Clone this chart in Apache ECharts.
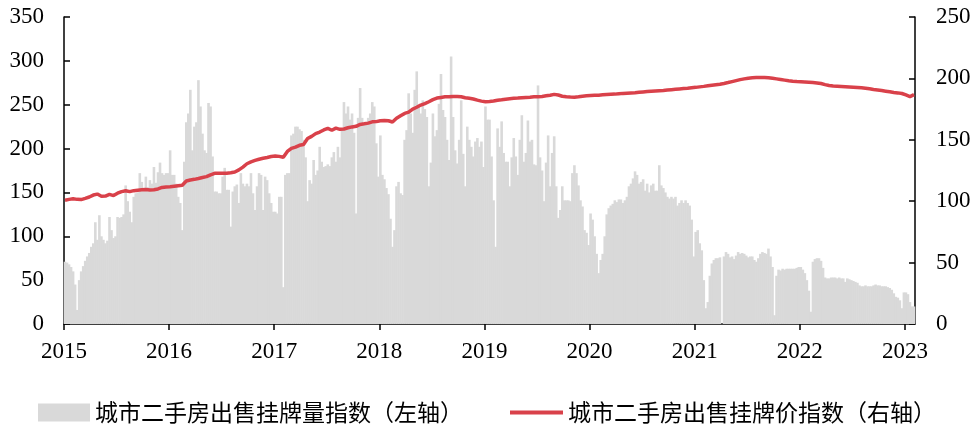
<!DOCTYPE html>
<html>
<head>
<meta charset="utf-8">
<script src="https://cdn.jsdelivr.net/npm/echarts@6/dist/echarts.min.js"></script>
<style>
html,body{margin:0;padding:0;background:#fff;}
#c{width:974px;height:428px;}
</style>
</head>
<body>
<div id="c"></div>
<script>
// ---- Data (weekly listing-volume index, left axis) ----
const vol2015 = [71,70,68,65,60,45,16,50,60,66,72,77,81,88,92,116,96,124,100,96,92,95,122,107,98,100,122,121,122,125,158,140,128,116,145,149,150,172,162,153,168,156,164,160,179,161,173,184,172,170,172,172];
const vol2016 = [198,170,170,160,145,138,107,185,230,240,267,198,225,230,278,248,217,198,195,252,248,191,151,151,149,149,168,178,153,153,111,151,157,159,138,172,160,157,160,157,172,149,130,157,172,170,130,168,164,149,138,128];
const vol2017 = [128,126,145,145,42,170,172,172,215,217,225,225,222,220,210,190,140,164,160,187,170,175,202,185,179,180,182,180,190,196,185,202,190,221,253,240,248,233,240,218,126,235,269,235,228,230,235,240,253,248,206,168];
const vol2018 = [215,170,165,155,148,120,88,107,157,162,149,147,210,221,263,240,218,267,288,250,240,255,245,236,157,184,240,214,221,251,285,244,236,210,187,305,236,198,183,210,255,194,157,225,210,202,191,208,212,202,208,179];
const vol2019 = [248,233,233,191,141,88,223,202,231,195,185,185,157,190,212,191,170,210,238,185,195,232,208,210,182,181,272,190,175,140,184,215,157,195,214,157,121,130,157,141,141,141,140,172,181,172,158,141,134,107,104,90];
const vol2020 = [126,119,100,80,58,73,80,100,125,132,135,137,141,139,142,142,138,141,145,157,160,166,174,170,160,162,165,152,160,150,158,160,152,152,181,158,155,150,145,143,145,143,145,135,138,141,138,141,138,135,119,77];
const vol2021 = [105,107,92,84,50,18,25,55,69,73,75,75,76,0,77,82,80,76,77,74,78,82,80,81,80,78,76,77,77,73,71,75,80,82,81,80,86,77,65,10,55,62,61,63,62,63,63,63,63,63,64,65];
const vol2022 = [65,62,58,50,38,14,71,74,75,75,72,64,53,52,52,53,53,53,52,53,52,52,48,52,51,50,49,48,47,44,43,43,44,43,43,43,44,45,44,44,43,43,43,42,41,39,35,31,30,27,18,36];
const vol2023 = [36,34,25,20,20];

// ---- Data (bi-weekly listing-price index, right axis) ----
const px2015 = [100.8,101.5,102,101.5,101.3,102.3,103.4,105,105.8,104,104.2,105.6,104.6,106.5,107.8,108.5,107.8,108.6,109,109.3,109.6,109.2,109.4,110,111.2,111.6];
const px2016 = [111.8,112.2,112.6,113,116.5,117.3,117.8,118.5,119.3,120,121.5,122.7,122.8,122.7,122.8,123.2,123.8,125.5,127.8,130.5,132,133.2,134.2,135,135.6,136.4];
const px2017 = [136.8,136.5,135.8,140.5,143,144,145.5,146.2,151,152.8,155,156.3,158,159.3,157.8,159.5,158.5,158.8,159.8,160.5,161,162.5,163,163.6,164.6,164.8];
const px2018 = [165.5,165.8,165.5,164.5,167.5,169.5,171.5,172.5,175,176.5,178.3,179.5,181,182.7,184,184.5,185,185.1,185.3,185.2,185,184.3,183.8,183.2,182.3,181.5];
const px2019 = [181,181.2,181.6,182.2,182.6,183.1,183.5,183.8,184,184.3,184.5,184.7,185,185.1,185.3,185.8,186.3,187,186.5,185.5,185,184.8,184.7,185,185.5,185.8];
const px2020 = [186,186.2,186.3,186.6,186.8,187,187.2,187.5,187.8,188,188.2,188.4,188.7,189,189.3,189.6,189.8,190,190.2,190.5,190.8,191.1,191.4,191.7,192,192.4];
const px2021 = [192.7,193.1,193.5,194,194.5,194.9,195.3,195.9,196.6,197.4,198.2,199,199.6,200.2,200.5,200.7,200.8,200.7,200.5,200.1,199.6,199.1,198.6,198.1,197.7,197.4];
const px2022 = [197.2,197,196.8,196.6,196.3,195.8,194.9,194.2,193.8,193.6,193.4,193.2,193,192.8,192.6,192.4,192,191.5,191,190.6,190.1,189.6,189.1,188.6,188.2,187.7];
const px2023 = [186.5,185.2,186.8];

const volName = '城市二手房出售挂牌量指数（左轴）';
const priceName = '城市二手房出售挂牌价指数（右轴）';
const leftTicks = {min: 0, max: 350, interval: 50};
const rightTicks = {min: 0, max: 250, interval: 50};
const xYears = {min: 2015, max: 2023.096, interval: 1};

const volByYear = [[2015,vol2015],[2016,vol2016],[2017,vol2017],[2018,vol2018],[2019,vol2019],[2020,vol2020],[2021,vol2021],[2022,vol2022],[2023,vol2023]];
const pxByYear = [[2015,px2015],[2016,px2016],[2017,px2017],[2018,px2018],[2019,px2019],[2020,px2020],[2021,px2021],[2022,px2022],[2023,px2023]];

const volData = [];
volByYear.forEach(([y, arr]) => arr.forEach((v, i) => volData.push([y + (i + 0.5) / 52, v])));
const pxData = [];
pxByYear.forEach(([y, arr]) => arr.forEach((v, i) => pxData.push([y + (2 * i + 0.5) / 52, v])));

const numFont = {fontFamily: 'Liberation Serif', fontSize: 23, color: '#000'};
const axisLine = {show: true, lineStyle: {color: '#000', width: 1.5}};

const chart = echarts.init(document.getElementById('c'), null, {renderer: 'canvas'});
chart.setOption({
  animation: false,
  backgroundColor: '#fff',
  grid: {left: 64, right: 59, top: 17, bottom: 104, containLabel: false},
  xAxis: {
    type: 'value', min: xYears.min, max: xYears.max, interval: xYears.interval,
    axisLine: axisLine,
    axisTick: {show: true, inside: false, length: 6, lineStyle: {color: '#000', width: 1.5}},
    axisLabel: Object.assign({margin: 16, showMaxLabel: false, formatter: v => String(Math.round(v))}, numFont),
    splitLine: {show: false}
  },
  yAxis: [
    {
      type: 'value', position: 'left', min: leftTicks.min, max: leftTicks.max, interval: leftTicks.interval,
      axisLine: axisLine,
      axisTick: {show: true, inside: true, length: 6, lineStyle: {color: '#000', width: 1.5}},
      axisLabel: Object.assign({margin: 20}, numFont),
      splitLine: {show: false}
    },
    {
      type: 'value', position: 'right', min: rightTicks.min, max: rightTicks.max, interval: rightTicks.interval,
      axisLine: axisLine,
      axisTick: {show: true, inside: true, length: 6, lineStyle: {color: '#000', width: 1.5}},
      axisLabel: Object.assign({margin: 21}, numFont),
      splitLine: {show: false}
    }
  ],
  legend: [
    {
      left: 38, top: 401, padding: 0, itemWidth: 52, itemHeight: 18, itemGap: 0,
      data: [{name: volName, icon: 'rect'}],
      textStyle: {fontFamily: 'Noto Sans CJK SC', fontSize: 23, color: '#000'}
    },
    {
      left: 510, top: 401, padding: 0, itemWidth: 53, itemHeight: 18, itemGap: 0,
      data: [{name: priceName, icon: 'path://M0,0H53V4H0Z'}],
      textStyle: {fontFamily: 'Noto Sans CJK SC', fontSize: 23, color: '#000'}
    }
  ],
  series: [
    {
      name: volName, type: 'bar', yAxisIndex: 0, data: volData,
      barWidth: 2.6, itemStyle: {color: '#d9d9d9'}, large: false
    },
    {
      name: priceName, type: 'line', yAxisIndex: 1, data: pxData,
      symbol: 'none', showSymbol: false,
      lineStyle: {color: '#d9414a', width: 3.5}, itemStyle: {color: '#d9414a'}, z: 5
    }
  ]
});
</script>
</body>
</html>
